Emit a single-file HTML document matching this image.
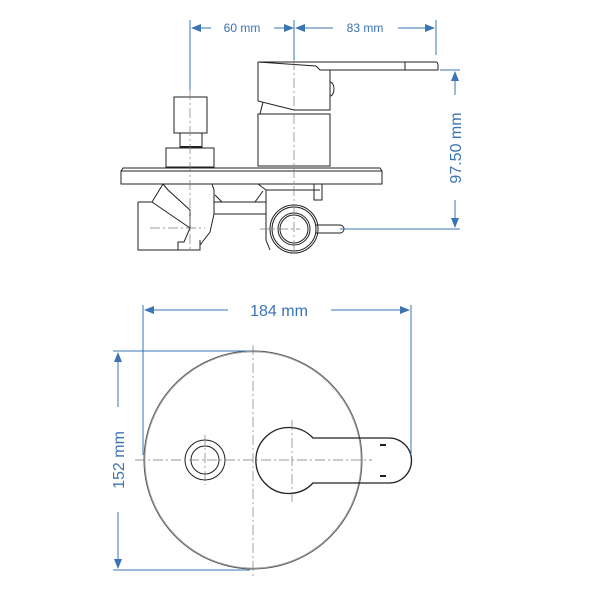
<!DOCTYPE html>
<html><head><style>html,body{margin:0;background:#fff}svg{display:block}</style></head><body>
<svg width="600" height="600" viewBox="0 0 600 600" xmlns="http://www.w3.org/2000/svg" font-family="Liberation Sans, sans-serif">
<defs><marker id="a" markerWidth="10" markerHeight="8" refX="9" refY="4" orient="auto-start-reverse" markerUnits="userSpaceOnUse"><path d="M0,0 L10,4 L0,8 z" fill="#3a74b3"/></marker></defs>
<g fill="none" stroke="#222" stroke-width="1">
<path d="M258,62 L436,62 Q438,62 438,66 L438,70 L320,70 L316,66 Z"/>
<line x1="405" y1="62" x2="405" y2="70"/>
<path d="M258,62 L258,101 L294,110 L330,110 L330,70"/>
<path d="M330,82 a4,7 0 0 1 0,14"/>
<path d="M263,102 L260,114"/>
<rect x="258" y="114" width="72" height="52"/>
<rect x="174" y="97" width="33" height="36"/>
<rect x="180" y="133" width="22" height="14"/>
<rect x="166" y="148" width="48" height="19"/>
<line x1="180" y1="147" x2="202" y2="147" stroke-width="2"/>
<path d="M123,168 L380,168 L382,171 L382,184 L121,184 L121,171 Z"/>
<line x1="121" y1="171" x2="382" y2="171"/>
<path d="M138,202 L138,250 L178,250 L178,242 L184,242 L190,228 L190,210 L168,190 L163,184"/>
<path d="M138,202 L152,202 L163,184"/>
<line x1="152" y1="202" x2="190" y2="228"/>
<path d="M178,250 L200,250 L200,245 L210,232 L214,214 L214,190 L212,184"/>
<path d="M214,202 L266,202 L266,190 L258,184"/>
<path d="M214,214 L266,214"/>
<path d="M215,195 L222,202 L255,202 L263,191"/>
<path d="M200,240 L200,250"/>
<path d="M266,198 L266,240 L270,250"/>
<line x1="266" y1="190" x2="320" y2="190"/>
<path d="M314,184 L314,200 L322,200 L322,184"/>
<circle cx="294" cy="229" r="24"/>
<circle cx="294" cy="229" r="22"/>
<circle cx="294" cy="229" r="16"/>
<circle cx="294" cy="229" r="14"/>
<path d="M316,225 L340,225 a4,4 0 0 1 0,8 L316,233"/>
<circle cx="253" cy="460" r="109" stroke="#555"/>
<circle cx="253" cy="460" r="108" stroke="#888" stroke-width="0.6"/>
<circle cx="205" cy="460" r="20"/>
<circle cx="205" cy="460" r="14"/>
<path d="M313,438 L389,438 A22.5,22.5 0 0 1 389,483 L313,483 A33,33 0 1 1 313,438 Z" stroke-width="1.3"/>
<line x1="380" y1="445" x2="386" y2="445" stroke-width="2"/>
<line x1="380" y1="476" x2="386" y2="476" stroke-width="2"/>
</g>
<g stroke="#777" stroke-width="0.7" stroke-dasharray="10,3,2,3" fill="none">
<line x1="190" y1="90" x2="190" y2="250"/>
<line x1="294" y1="60" x2="294" y2="250"/>
<line x1="150" y1="228" x2="205" y2="228"/>
<line x1="260" y1="229" x2="300" y2="229"/>
<line x1="253" y1="345" x2="253" y2="578"/>
<line x1="135" y1="460" x2="372" y2="460"/>
<line x1="205" y1="435" x2="205" y2="485"/>
<line x1="292" y1="420" x2="292" y2="502"/>
</g>
<g stroke="#3a74b3" stroke-width="1" fill="none">
<line x1="190" y1="20" x2="190" y2="90"/>
<line x1="294" y1="20" x2="294" y2="60"/>
<line x1="436" y1="20" x2="436" y2="55"/>
<line x1="192" y1="28" x2="211" y2="28" marker-start="url(#a)"/>
<line x1="274" y1="28" x2="293" y2="28" marker-end="url(#a)"/>
<line x1="296" y1="28" x2="333" y2="28" marker-start="url(#a)"/>
<line x1="398" y1="28" x2="434" y2="28" marker-end="url(#a)"/>
<line x1="440" y1="70" x2="460" y2="70"/>
<line x1="340" y1="229" x2="460" y2="229"/>
<line x1="455" y1="72" x2="455" y2="95" marker-start="url(#a)"/>
<line x1="455" y1="200" x2="455" y2="227" marker-end="url(#a)"/>
<line x1="143" y1="305" x2="143" y2="455"/>
<line x1="411" y1="305" x2="411" y2="455"/>
<line x1="145" y1="310" x2="228" y2="310" marker-start="url(#a)"/>
<line x1="331" y1="310" x2="409" y2="310" marker-end="url(#a)"/>
<line x1="113" y1="351" x2="250" y2="351"/>
<line x1="113" y1="570" x2="250" y2="570"/>
<line x1="118" y1="353" x2="118" y2="407" marker-start="url(#a)"/>
<line x1="118" y1="512" x2="118" y2="568" marker-end="url(#a)"/>
</g>
<g fill="#3a74b3">
<text x="242" y="32" font-size="12" text-anchor="middle">60 mm</text>
<text x="365" y="32" font-size="12" text-anchor="middle">83 mm</text>
<text x="0" y="0" font-size="16" text-anchor="middle" transform="translate(461,148) rotate(-90)">97.50 mm</text>
<text x="279" y="316" font-size="16" text-anchor="middle">184 mm</text>
<text x="0" y="0" font-size="16" text-anchor="middle" transform="translate(124,460) rotate(-90)">152 mm</text>
</g>
</svg>
</body></html>
